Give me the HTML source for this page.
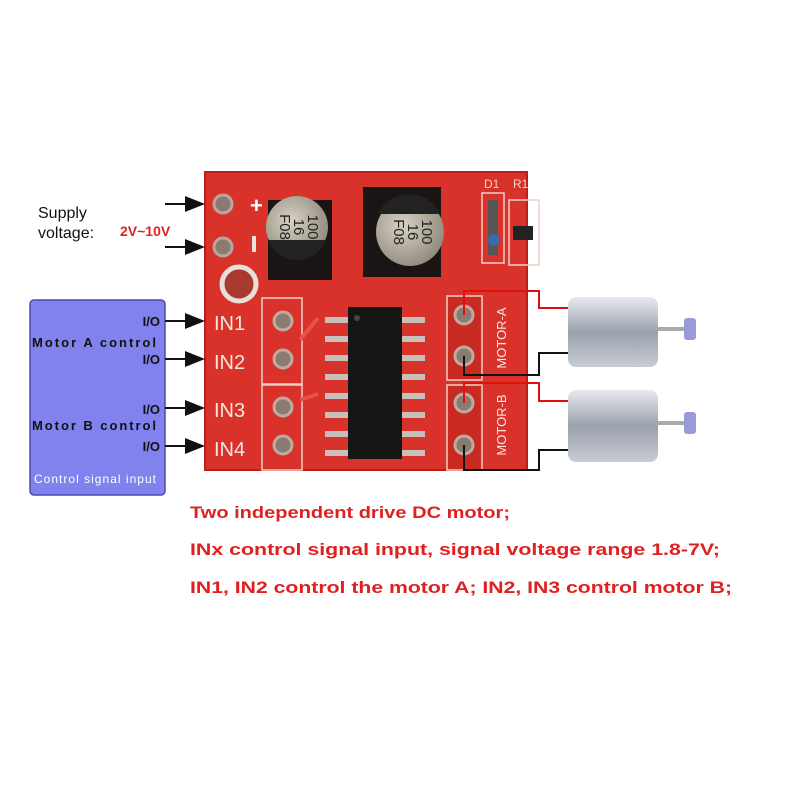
<!DOCTYPE html>
<html><head><meta charset="utf-8"><style>
html,body{margin:0;padding:0;background:#fff;}
svg{display:block;}
text{font-family:"Liberation Sans",sans-serif;}
</style></head><body>
<svg width="785" height="785" viewBox="0 0 785 785" xmlns="http://www.w3.org/2000/svg">
<defs>
<marker id="ar" markerWidth="10" markerHeight="8" refX="9" refY="4" orient="auto"><path d="M0,0 L10,4 L0,8 z" fill="#111"/></marker>
<linearGradient id="met" x1="0" y1="0" x2="0" y2="1"><stop offset="0" stop-color="#e8eaf0"/><stop offset="0.5" stop-color="#9aa0ac"/><stop offset="1" stop-color="#c8ccd4"/></linearGradient>
<radialGradient id="cap" cx="0.4" cy="0.4" r="0.7"><stop offset="0" stop-color="#d8d2c4"/><stop offset="1" stop-color="#8a8478"/></radialGradient>
</defs>
<rect x="205" y="172" width="322" height="298" fill="#d8322a" stroke="#b82018" stroke-width="2"/>
<line x1="165" y1="204" x2="203" y2="204" stroke="#111" stroke-width="2" marker-end="url(#ar)"/>
<line x1="165" y1="247" x2="203" y2="247" stroke="#111" stroke-width="2" marker-end="url(#ar)"/>
<text x="38" y="218" font-size="16" fill="#111">Supply</text>
<text x="38" y="238" font-size="16" fill="#111">voltage:</text>
<text x="120" y="236" font-size="14" fill="#d22" font-weight="bold">2V~10V</text>
<circle cx="223" cy="204" r="9" fill="#8a7a70" stroke="#b9a79c" stroke-width="3"/>
<circle cx="223" cy="247" r="9" fill="#8a7a70" stroke="#b9a79c" stroke-width="3"/>
<text x="250" y="213" font-size="22" fill="#fff" font-weight="bold">+</text>
<rect x="252" y="236" width="4" height="16" fill="#f0e0d8"/>
<circle cx="239" cy="284" r="17" fill="#a83a30" stroke="#e8e0d8" stroke-width="5"/>
<rect x="268" y="200" width="64" height="80" fill="#1a1414"/>
<circle cx="297" cy="227" r="31" fill="url(#cap)"/>
<path d="M268,240 A31,31 0 0 0 326,240 Z" fill="#222"/>
<g font-size="15" fill="#222" text-anchor="middle">
<text transform="translate(308 227) rotate(90)">100</text>
<text transform="translate(294 227) rotate(90)">16</text>
<text transform="translate(280 227) rotate(90)">F08</text>
</g>
<rect x="363" y="187" width="78" height="90" fill="#1a1414"/>
<circle cx="410" cy="232" r="34" fill="url(#cap)"/>
<path d="M378,214 A34,34 0 0 1 440,214 Z" fill="#222"/>
<g font-size="15" fill="#222" text-anchor="middle">
<text transform="translate(422 232) rotate(90)">100</text>
<text transform="translate(408 232) rotate(90)">16</text>
<text transform="translate(394 232) rotate(90)">F08</text>
</g>
<text x="484" y="188" font-size="12" fill="#f0d0c8">D1</text>
<text x="513" y="188" font-size="12" fill="#f0d0c8">R1</text>
<rect x="482" y="193" width="22" height="70" fill="none" stroke="#f0d0c8" stroke-width="1.5"/>
<rect x="488" y="200" width="10" height="55" fill="#555"/>
<circle cx="494" cy="240" r="6" fill="#3a6ab0"/>
<rect x="509" y="200" width="30" height="65" fill="none" stroke="#f0d0c8" stroke-width="1.5"/>
<rect x="513" y="226" width="20" height="14" fill="#222"/>
<g font-size="20" fill="#f4e8e0">
<text x="214" y="330">IN1</text><text x="214" y="369">IN2</text>
<text x="214" y="417">IN3</text><text x="214" y="456">IN4</text>
</g>
<rect x="262" y="298" width="40" height="86" fill="none" stroke="#f0d0c8" stroke-width="1.5"/>
<rect x="262" y="385" width="40" height="85" fill="none" stroke="#f0d0c8" stroke-width="1.5"/>
<g fill="#8a7a70" stroke="#c0aaa0" stroke-width="3">
<circle cx="283" cy="321" r="9"/><circle cx="283" cy="359" r="9"/>
<circle cx="283" cy="407" r="9"/><circle cx="283" cy="445" r="9"/>
</g>
<!-- traces -->
<g stroke="#e85048" stroke-width="4" fill="none">
<path d="M318,318 L300,340"/><path d="M318,394 L300,400"/>
</g>
<g fill="#c8c0b8">
<rect x="325" y="317" width="24" height="6"/><rect x="325" y="336" width="24" height="6"/><rect x="325" y="355" width="24" height="6"/><rect x="325" y="374" width="24" height="6"/><rect x="325" y="393" width="24" height="6"/><rect x="325" y="412" width="24" height="6"/><rect x="325" y="431" width="24" height="6"/><rect x="325" y="450" width="24" height="6"/>
<rect x="401" y="317" width="24" height="6"/><rect x="401" y="336" width="24" height="6"/><rect x="401" y="355" width="24" height="6"/><rect x="401" y="374" width="24" height="6"/><rect x="401" y="393" width="24" height="6"/><rect x="401" y="412" width="24" height="6"/><rect x="401" y="431" width="24" height="6"/><rect x="401" y="450" width="24" height="6"/>
</g>
<rect x="348" y="307" width="54" height="152" fill="#151515"/>
<circle cx="357" cy="318" r="3" fill="#444"/>
<rect x="447" y="296" width="35" height="84" fill="#c82a22" stroke="#f0d0c8" stroke-width="1.5"/>
<rect x="447" y="385" width="35" height="85" fill="#c82a22" stroke="#f0d0c8" stroke-width="1.5"/>
<g fill="#8a7a70" stroke="#c0aaa0" stroke-width="3">
<circle cx="464" cy="315" r="9"/><circle cx="464" cy="356" r="9"/>
<circle cx="464" cy="403" r="9"/><circle cx="464" cy="445" r="9"/>
</g>
<text x="506" y="338" font-size="13" fill="#f4e8e0" text-anchor="middle" transform="rotate(-90 506 338)">MOTOR-A</text>
<text x="506" y="425" font-size="13" fill="#f4e8e0" text-anchor="middle" transform="rotate(-90 506 425)">MOTOR-B</text>
<polyline points="464,315 464,291 539,291 539,308 568,308" fill="none" stroke="#e01010" stroke-width="2"/>
<polyline points="464,356 464,375 539,375 539,353 568,353" fill="none" stroke="#111" stroke-width="2"/>
<polyline points="464,403 464,383 539,383 539,401 568,401" fill="none" stroke="#e01010" stroke-width="2"/>
<polyline points="464,445 464,470 539,470 539,450 568,450" fill="none" stroke="#111" stroke-width="2"/>
<rect x="568" y="297" width="90" height="70" rx="8" fill="url(#met)"/>
<rect x="658" y="327" width="32" height="4" fill="#aaa"/>
<rect x="684" y="318" width="12" height="22" rx="3" fill="#9a9ad8"/>
<rect x="568" y="390" width="90" height="72" rx="8" fill="url(#met)"/>
<rect x="658" y="421" width="32" height="4" fill="#aaa"/>
<rect x="684" y="412" width="12" height="22" rx="3" fill="#9a9ad8"/>
<rect x="30" y="300" width="135" height="195" rx="4" fill="#8282ee" stroke="#4a4ab0" stroke-width="1.5"/>
<g font-size="13" fill="#111" font-weight="bold">
<text x="160" y="326" text-anchor="end">I/O</text>
<text x="32" y="347" textLength="124">Motor A control</text>
<text x="160" y="364" text-anchor="end">I/O</text>
<text x="160" y="414" text-anchor="end">I/O</text>
<text x="32" y="430" textLength="124">Motor B control</text>
<text x="160" y="451" text-anchor="end">I/O</text>
</g>
<text x="34" y="483" font-size="12" fill="#fff" textLength="122">Control signal input</text>
<line x1="165" y1="321" x2="203" y2="321" stroke="#111" stroke-width="2" marker-end="url(#ar)"/>
<line x1="165" y1="359" x2="203" y2="359" stroke="#111" stroke-width="2" marker-end="url(#ar)"/>
<line x1="165" y1="408" x2="203" y2="408" stroke="#111" stroke-width="2" marker-end="url(#ar)"/>
<line x1="165" y1="446" x2="203" y2="446" stroke="#111" stroke-width="2" marker-end="url(#ar)"/>
<g font-size="17" fill="#e02020" font-weight="bold">
<text x="190" y="518" textLength="320" lengthAdjust="spacingAndGlyphs">Two independent drive DC motor;</text>
<text x="190" y="555" textLength="530" lengthAdjust="spacingAndGlyphs">INx control signal input, signal voltage range 1.8-7V;</text>
<text x="190" y="593" textLength="542" lengthAdjust="spacingAndGlyphs">IN1, IN2 control the motor A; IN2, IN3 control motor B;</text>
</g>
</svg>
</body></html>
